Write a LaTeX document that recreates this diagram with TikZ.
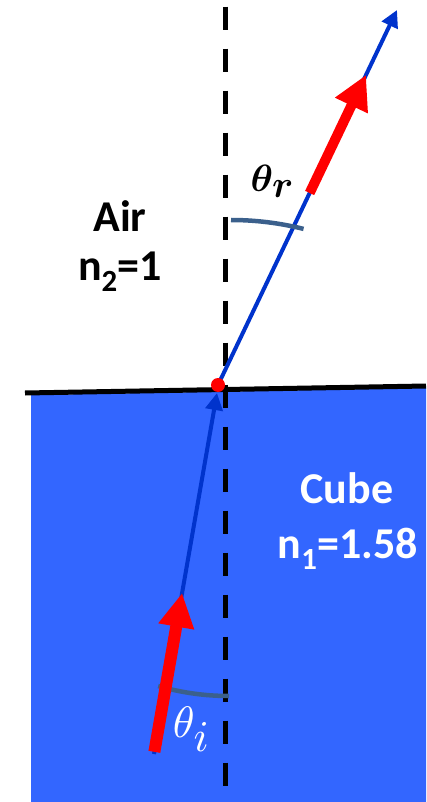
\documentclass[tikz,border=0pt]{standalone}
\usepackage{amsmath}
\usepackage{fontspec}
\setmainfont{Carlito}
\usetikzlibrary{arrows.meta,calc}
\definecolor{cubeblue}{RGB}{51,102,255}
\definecolor{rayblue}{RGB}{0,51,204}
\definecolor{arcslate}{RGB}{59,96,140}
\definecolor{arrowred}{RGB}{255,0,0}
\begin{document}
\begin{tikzpicture}[x=1pt,y=-1pt,
  ray/.style={draw=rayblue,line width=4pt,-{Triangle[length=17pt,width=17pt]}},
  redarrow/.style={draw=arrowred,-{Triangle[length=34pt,width=34pt]}},
  anglearc/.style={draw=arcslate,line width=4.5pt},
  normal/.style={draw=black,line width=5pt,dash pattern=on 23.5pt off 18.5pt},
  surface/.style={draw=black,line width=5pt},
  txt/.style={font=\fontsize{44}{48}\selectfont\bfseries,inner sep=0pt,anchor=base}]
\useasboundingbox (0,0) rectangle (426,802);
% medium
\fill[cubeblue] (31,395) -- (426,388) -- (426,802) -- (31,802) -- cycle;
\coordinate (sl) at (25,393);
\coordinate (sr) at (426,386);
\draw[surface] (sl) -- (sr);
% normal
\coordinate (nt) at (225,6.7);
\coordinate (nb) at (225,802);
\draw[normal] (nt) -- (nb);
% rays
\coordinate (o) at (218,385);
\coordinate (rtip) at (397,10);
\coordinate (istart) at (154,754);
\coordinate (itip) at (217,393);
\draw[ray] (o) -- (rtip);
\draw[ray] (istart) -- (itip);
% angle arcs
\coordinate (ar) at (231,220);
\coordinate (ai) at (229,696);
\draw[anglearc] (ar) arc[start angle=-90,end angle=-76,radius=300];
\draw[anglearc] (ai) arc[start angle=90,end angle=106,radius=257];
% red arrows
\coordinate (r1) at ($(o)!0.512!(rtip)$);
\coordinate (r2) at ($(o)!0.827!(rtip)$);
\draw[redarrow,line width=10pt] (r1) -- (r2);
\coordinate (i1) at ($(istart)!0.006!(itip)$);
\coordinate (i2) at ($(istart)!0.446!(itip)$);
\draw[redarrow,line width=12pt] (i1) -- (i2);
% point of incidence
\node[circle,fill=arrowred,inner sep=0pt,minimum size=14pt] (dot) at (o) {};
% labels
\node[scale=3.8,inner sep=0pt,font=\boldmath] (thr) at (273,181) {$\theta_{\textstyle r}$};
\node[scale=4.4,inner sep=0pt,text=white] (thi) at (192,729) {$\theta_{\textstyle i}$};
\node[txt] (air) at (120,232) {Air};
\node[txt] (n2) at (120,280) {n\textsubscript{2}=1};
\node[txt,text=white] (cube) at (347,503) {Cube};
\node[txt,text=white] (n1) at (348,558) {n\textsubscript{1}=1.58};
\end{tikzpicture}
\end{document}
